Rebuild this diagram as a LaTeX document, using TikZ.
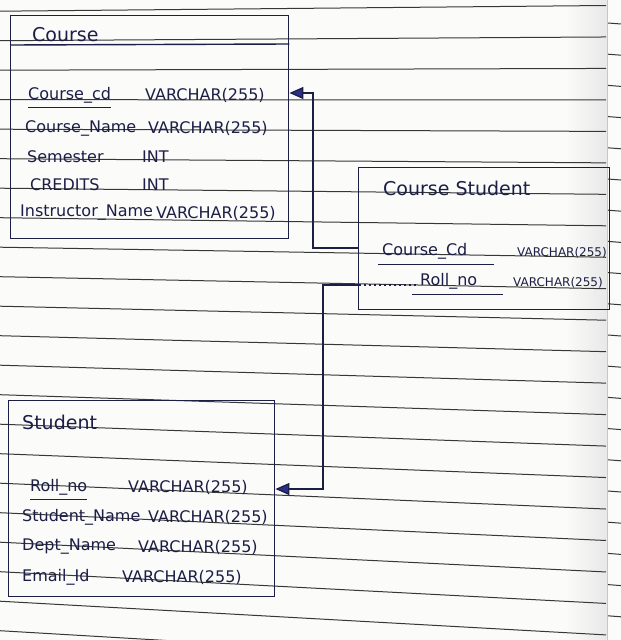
\documentclass[tikz,border=0pt]{standalone}
\usepackage{fontspec}
\setmainfont{DejaVu Sans}
\usetikzlibrary{arrows.meta,positioning}

\definecolor{ink}{RGB}{28,30,70}
\definecolor{tipink}{RGB}{42,46,140}
\definecolor{ruling}{RGB}{55,55,55}
\definecolor{paper}{RGB}{251,251,250}

\begin{document}
\begin{tikzpicture}[
  x=1pt, y=-1pt,
  tablebox/.style={draw=ink, line width=1.4pt, inner sep=0, anchor=north west},
  title/.style={text=ink, font=\fontsize{19}{21}\selectfont, anchor=west, inner sep=0},
  field/.style={text=ink, font=\fontsize{16}{18}\selectfont, anchor=west, inner sep=0},
  smallfield/.style={field, font=\fontsize{12}{14}\selectfont},
  keyline/.style={draw=ink, line width=1.1pt},
  link/.style={draw=ink, line width=1.3pt, -{Triangle[length=14pt, width=12pt, fill=tipink]}},
  leader/.style={draw=ink, line width=1.3pt, dash pattern=on 2pt off 3pt},
  ruling/.style={draw=ruling, line width=1pt}
]

\fill[paper] (0,0) rectangle (621,640);
\shade[left color=paper, right color=black!9] (565,0) rectangle (607,640);
\useasboundingbox (0,0) rectangle (621,640);

\foreach \k in {0,...,21}
  \draw[ruling] (0,{11.2+29.5*\k}) -- (606,{5.5+31.47*\k});
\foreach \k in {0,...,19}
  \draw[ruling] (608,{23+31.2*\k}) -- (621,{24+31.2*\k});
\draw[black!22, line width=0.6pt] (607,0) -- (607,640);

\node[tablebox, minimum width=278pt, minimum height=223pt] (course) at (10,15) {};
\draw[draw=ink, line width=1.4pt] ([yshift=-30pt]course.north west) -- ([yshift=-29pt]course.north east);
\node[title] (coursetitle) at (32,35) {Course};
\node[field] (ccd) at (28,95) {Course\_cd};
\node[field] (ccdtype) at (145,95) {VARCHAR(255)};
\node[field] (cname) at (25,128) {Course\_Name};
\node[field] (cnametype) at (148,128) {VARCHAR(255)};
\node[field] (csem) at (27,157) {Semester};
\node[field] (csemtype) at (142,157) {INT};
\node[field] (ccred) at (30,185) {CREDITS};
\node[field] (ccredtype) at (142,185) {INT};
\node[field] (cinst) at (20,213) {Instructor\_Name};
\node[field] (cinsttype) at (156,213) {VARCHAR(255)};
\draw[keyline] ([yshift=-4pt]ccd.south west) -- ([yshift=-4pt]ccd.south east);

\node[tablebox, minimum width=251pt, minimum height=142pt] (cs) at (358,167) {};
\node[title] (cstitle) at (383,188) {Course Student};
\node[field] (cscd) at (382,251) {Course\_Cd};
\node[smallfield] (cscdtype) at (517,253) {VARCHAR(255)};
\node[field] (csroll) at (420,281) {Roll\_no};
\node[smallfield] (csrolltype) at (513,283) {VARCHAR(255)};
\draw[keyline] ([yshift=-5pt,xshift=-4pt]cscd.south west) -- ([yshift=-5pt,xshift=26pt]cscd.south east);
\draw[keyline] ([yshift=-5pt,xshift=-8pt]csroll.south west) -- ([yshift=-5pt,xshift=26pt]csroll.south east);

\node[tablebox, minimum width=266pt, minimum height=196pt] (student) at (8,400) {};
\node[title] (studenttitle) at (22,422) {Student};
\node[field] (sroll) at (30,487) {Roll\_no};
\node[field] (srolltype) at (128,487) {VARCHAR(255)};
\node[field] (sname) at (22,517) {Student\_Name};
\node[field] (snametype) at (148,517) {VARCHAR(255)};
\node[field] (sdept) at (22,547) {Dept\_Name};
\node[field] (sdepttype) at (138,547) {VARCHAR(255)};
\node[field] (semail) at (22,577) {Email\_Id};
\node[field] (semailtype) at (122,577) {VARCHAR(255)};
\draw[keyline] ([yshift=-4pt]sroll.south west) -- ([yshift=-4pt]sroll.south east);

\draw[link] ([yshift=3pt]cscd.west -| cs.west) -- ++(-45,0) |- ([yshift=2pt]ccd.west -| course.east);
\draw[leader] ([xshift=-4pt,yshift=-4pt]csroll.west) -- ([yshift=-4pt]csroll.west -| cs.west);
\draw[link] ([yshift=-4pt]csroll.west -| cs.west) -- ++(-35,0) |- ([yshift=-2pt]sroll.west -| student.east);

\end{tikzpicture}
\end{document}
